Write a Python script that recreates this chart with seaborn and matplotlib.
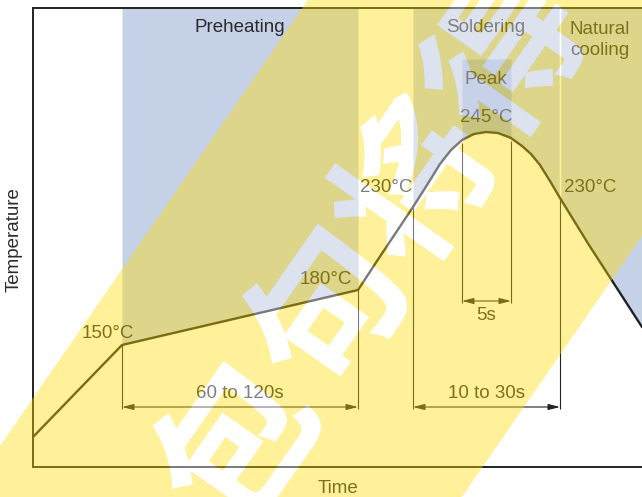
import numpy as np
import pandas as pd
import matplotlib
matplotlib.use("Agg")
import matplotlib.pyplot as plt
import seaborn as sns
from matplotlib.textpath import TextPath
from matplotlib.font_manager import FontProperties
from matplotlib.path import Path
from matplotlib.patches import PathPatch
from matplotlib.transforms import Affine2D, IdentityTransform

# Reflow profile (schematic units: time along x, temperature level along y)
profile_time = [0, 89, 325, 344, 362, 380, 394, 407, 418, 429, 441, 453,
                465, 478, 489, 498, 507, 517, 527, 556, 609]
profile_level = [30, 122, 177, 206, 233, 260, 282, 303, 317, 327, 333, 335,
                 334, 329, 321, 313, 302, 286, 269, 222, 140]

# key times of the profile
preheat_start, preheat_end = 89, 325
solder_start, solder_end = 380, 527
peak_start, peak_end = 429, 478

phase_labels = ["Preheating", "Soldering", "Natural\ncooling", "Peak"]
temp_labels = ["150°C", "180°C", "230°C", "245°C"]
span_labels = ["60 to 120s", "10 to 30s", "5s"]
watermark_chars = ["包", "句", "将", "得"]

INK = "#222222"
TEXT = "#2b2b2b"
BLUE = "#c5d1e6"
PEAK_BLUE = "#a3b5d9"

sns.set_theme(style="white")
plt.rcParams["font.family"] = ["Liberation Sans", "DejaVu Sans"]

fig = plt.figure(figsize=(6.42, 4.97), dpi=100)
ax = fig.add_axes([33 / 642, 30 / 497, 609 / 642, 459 / 497])
ax.set_xlim(0, 609)
ax.set_ylim(0, 459)
top = 459


def level_at(t):
    return np.interp(t, profile_time, profile_level)


def shade(t0, t1, upper, color, z):
    xs = np.linspace(t0, t1, 200)
    ax.fill_between(xs, level_at(xs), upper, color=color, lw=0, zorder=z)


# zone shading above the curve
shade(preheat_start, preheat_end, top, BLUE, 1)
shade(solder_start, solder_end - 0.8, top, BLUE, 1)
shade(solder_end + 0.8, 609, top, BLUE, 1)
shade(peak_start, peak_end, 408, PEAK_BLUE, 2)

# the profile curve
df = pd.DataFrame({"Time": profile_time, "Level": profile_level})
sns.lineplot(data=df, x="Time", y="Level", sort=False, color=INK, lw=1.7,
             ax=ax, zorder=5)

# dimension lines
dim_y = 60
small_y = 166
for t in [preheat_start, preheat_end, solder_start, solder_end]:
    ax.vlines(t, dim_y - 2, level_at(t), color=INK, lw=0.8, zorder=4)
for t in [peak_start, peak_end]:
    ax.vlines(t, small_y - 2, level_at(t) - 3, color=INK, lw=0.8, zorder=4)

arrow = dict(arrowstyle="<|-|>,head_length=0.7,head_width=0.18", color=INK,
             lw=0.8, shrinkA=0, shrinkB=0, mutation_scale=10)
for (a, b, y) in [(preheat_start, preheat_end, dim_y),
                  (solder_start, solder_end, dim_y),
                  (peak_start, peak_end, small_y)]:
    ax.annotate("", xy=(b, y), xytext=(a, y), arrowprops=arrow, zorder=4)

fs = 13.5
txt = dict(ha="center", va="center", fontsize=fs, color=TEXT, zorder=6)
ax.text(207, 439, phase_labels[0], **txt)
ax.text(453, 439, phase_labels[1], **txt)
ax.text(567, 427, phase_labels[2], linespacing=1.25, **txt)
ax.text(453, 388, phase_labels[3], **txt)
ax.text(75, 134, temp_labels[0], **txt)
ax.text(293, 187, temp_labels[1], **txt)
ax.text(353, 279, temp_labels[2], **txt)
ax.text(557, 279, temp_labels[2], **txt)
ax.text(453, 350, temp_labels[3], **txt)
ax.text(207, 73, span_labels[0], **txt)
ax.text(453, 73, span_labels[1], **txt)
ax.text(453, 151, span_labels[2], **txt)

ax.set_xticks([])
ax.set_yticks([])
ax.set_xlabel("Time", fontsize=fs, color=TEXT, va="center")
ax.set_ylabel("Temperature", fontsize=fs, color=TEXT, va="center")
ax.xaxis.set_label_coords(0.5, -0.046)
ax.yaxis.set_label_coords(-0.031, 0.495)
for s in ["left", "bottom", "top"]:
    ax.spines[s].set_color(INK)
    ax.spines[s].set_linewidth(1.4)
ax.spines["right"].set_visible(False)

# diagonal watermark: yellow band with glyph-shaped holes
fp = FontProperties(family="Noto Sans CJK SC", weight="bold")
angle = 55
step = np.array([np.cos(np.radians(angle)), np.sin(np.radians(angle))]) * 157
start = np.array([230.0, 57.0])
glyphs = []
for i, ch in enumerate(watermark_chars):
    tp = TextPath((0, 0), ch, size=155, prop=fp)
    ext = tp.get_extents()
    cx, cy = (ext.x0 + ext.x1) / 2, (ext.y0 + ext.y1) / 2
    pos = start + i * step
    tr = Affine2D().translate(-cx, -cy).rotate_deg(angle).translate(*pos)
    glyphs.append(tr.transform_path(tp))


def signed_area(poly):
    x, y = poly[:, 0], poly[:, 1]
    return 0.5 * np.sum(x * np.roll(y, -1) - np.roll(x, -1) * y)


polys = [p for g in glyphs for p in g.to_polygons()]
outer = max(polys, key=lambda p: abs(signed_area(p)))
band = np.array([(-49, -20), (448, -20), (807, 500), (310, 500), (-49, -20)])
if np.sign(signed_area(band)) == np.sign(signed_area(outer)):
    band = band[::-1]
band_path = Path(band, closed=True)
overlay = Path.make_compound_path(band_path, *glyphs)

fig.add_artist(PathPatch(overlay, facecolor="#ffdc00", alpha=0.4, lw=0,
                         transform=IdentityTransform(), zorder=10))
fig.add_artist(PathPatch(Path.make_compound_path(*glyphs), facecolor="white",
                         alpha=0.4, lw=0, transform=IdentityTransform(),
                         zorder=11))

fig.savefig("out.png", dpi=100)
